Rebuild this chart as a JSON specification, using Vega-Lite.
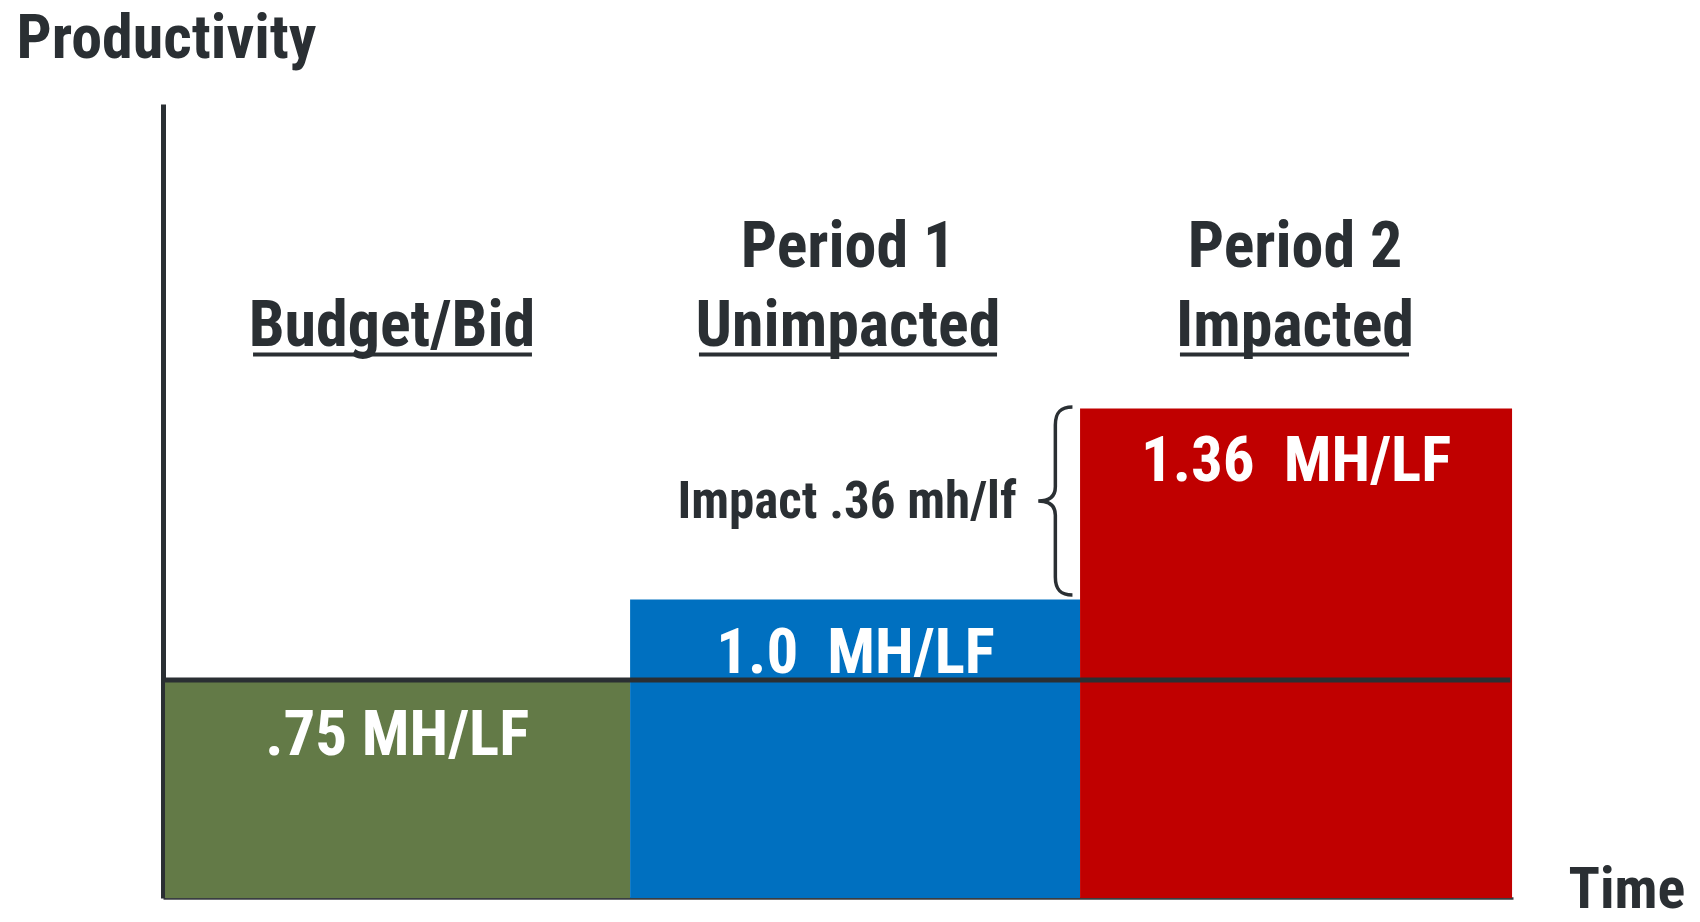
{
  "$schema": "https://vega.github.io/schema/vega-lite/v6.json",
  "width": 1350,
  "height": 794,
  "autosize": {"type": "none"},
  "padding": {"left": 163, "top": 104, "right": 187, "bottom": 24},
  "background": "white",
  "config": {
    "view": {"stroke": null},
    "font": "Roboto Condensed, Liberation Sans, sans-serif"
  },
  "datasets": {
    "bars": [
      {"period": "Budget/Bid", "start": 0.15, "end": 34.6, "mid": 17.35, "level": 0.725, "label": ".75 MH/LF"},
      {"period": "Period 1", "start": 34.6, "end": 67.93, "mid": 51.3, "level": 1.0, "label": "1.0\u00a0 MH/LF"},
      {"period": "Period 2", "start": 67.93, "end": 99.93, "mid": 83.93, "level": 1.64, "label": "1.36\u00a0 MH/LF"}
    ],
    "headers": [
      {"top": "", "bottom": "Budget/Bid", "pos": 16.96, "ulStart": 6.67, "ulEnd": 27.33},
      {"top": "Period 1", "bottom": "Unimpacted", "pos": 50.74, "ulStart": 39.7, "ulEnd": 61.78},
      {"top": "Period 2", "bottom": "Impacted", "pos": 83.85, "ulStart": 75.33, "ulEnd": 92.3}
    ],
    "baseline": [
      {"start": 0.15, "end": 99.8, "level": 0.73}
    ],
    "impact": [
      {"text": "Impact .36 mh/lf", "pos": 50.67, "level": 1.273, "bracePos": 66.1, "braceLevel": 1.33}
    ]
  },
  "layer": [
    {
      "data": {"name": "bars"},
      "mark": {"type": "rect"},
      "encoding": {
        "x": {"field": "start", "type": "quantitative", "scale": {"domain": [0, 100], "nice": false, "zero": false},
          "axis": {"domain": true, "domainColor": "#3a3e42", "domainWidth": 2.5, "ticks": false, "labels": false, "grid": false,
            "title": "Time", "titleFont": "Roboto Condensed", "titleFontSize": 58, "titleFontWeight": "bold", "titleColor": "#2a2f33",
            "titleAlign": "left", "titleBaseline": "alphabetic", "titleX": 1405, "titleY": 9}},
        "x2": {"field": "end"},
        "y": {"field": "level", "type": "quantitative", "scale": {"domain": [0, 2.66], "nice": false},
          "axis": {"domain": true, "domainColor": "#2a2f33", "domainWidth": 5, "ticks": false, "labels": false, "grid": false,
            "title": "Productivity", "titleFont": "Roboto Condensed", "titleFontSize": 62, "titleFontWeight": "bold", "titleColor": "#2a2f33", "titleAngle": 0,
            "titleAlign": "left", "titleBaseline": "alphabetic", "titleX": -147, "titleY": -47}},
        "y2": {"datum": 0},
        "color": {"field": "period", "type": "nominal", "legend": null,
          "scale": {"domain": ["Budget/Bid", "Period 1", "Period 2"], "range": ["#637a47", "#0070c0", "#c00000"]}}
      }
    },
    {
      "data": {"name": "baseline"},
      "mark": {"type": "rule", "color": "#2a2f33", "strokeWidth": 5},
      "encoding": {
        "x": {"field": "start", "type": "quantitative"},
        "x2": {"field": "end"},
        "y": {"field": "level", "type": "quantitative"}
      }
    },
    {
      "data": {"name": "bars"},
      "mark": {"type": "text", "color": "white", "font": "Roboto Condensed", "fontSize": 63, "fontWeight": "bold", "align": "center", "baseline": "alphabetic", "dy": 73},
      "encoding": {
        "x": {"field": "mid", "type": "quantitative"},
        "y": {"field": "level", "type": "quantitative"},
        "text": {"field": "label", "type": "nominal"}
      }
    },
    {
      "data": {"name": "headers"},
      "mark": {"type": "text", "color": "#2a2f33", "font": "Roboto Condensed", "fontSize": 64, "fontWeight": "bold", "align": "center", "baseline": "alphabetic"},
      "encoding": {
        "x": {"field": "pos", "type": "quantitative"},
        "y": {"datum": 2.114, "type": "quantitative"},
        "text": {"field": "top", "type": "nominal"}
      }
    },
    {
      "data": {"name": "headers"},
      "mark": {"type": "text", "color": "#2a2f33", "font": "Roboto Condensed", "fontSize": 64, "fontWeight": "bold", "align": "center", "baseline": "alphabetic"},
      "encoding": {
        "x": {"field": "pos", "type": "quantitative"},
        "y": {"datum": 1.849, "type": "quantitative"},
        "text": {"field": "bottom", "type": "nominal"}
      }
    },
    {
      "data": {"name": "headers"},
      "mark": {"type": "rule", "color": "#2a2f33", "strokeWidth": 4},
      "encoding": {
        "x": {"field": "ulStart", "type": "quantitative"},
        "x2": {"field": "ulEnd"},
        "y": {"datum": 1.821, "type": "quantitative"}
      }
    },
    {
      "data": {"name": "impact"},
      "mark": {"type": "text", "color": "#2a2f33", "font": "Roboto Condensed", "fontSize": 51, "fontWeight": "bold", "align": "center", "baseline": "alphabetic"},
      "encoding": {
        "x": {"field": "pos", "type": "quantitative"},
        "y": {"field": "level", "type": "quantitative"},
        "text": {"field": "text", "type": "nominal"}
      }
    },
    {
      "data": {"name": "impact"},
      "mark": {"type": "point", "filled": false, "opacity": 1, "stroke": "#2a2f33", "strokeWidth": 3.5, "size": 36100,
        "shape": "M0.18,-0.99 C0.05,-0.99 0,-0.93 0,-0.8 L0,-0.15 C0,-0.05 -0.06,0 -0.18,0 C-0.06,0 0,0.05 0,0.15 L0,0.8 C0,0.93 0.05,0.99 0.18,0.99"},
      "encoding": {
        "x": {"field": "bracePos", "type": "quantitative"},
        "y": {"field": "braceLevel", "type": "quantitative"}
      }
    }
  ]
}
